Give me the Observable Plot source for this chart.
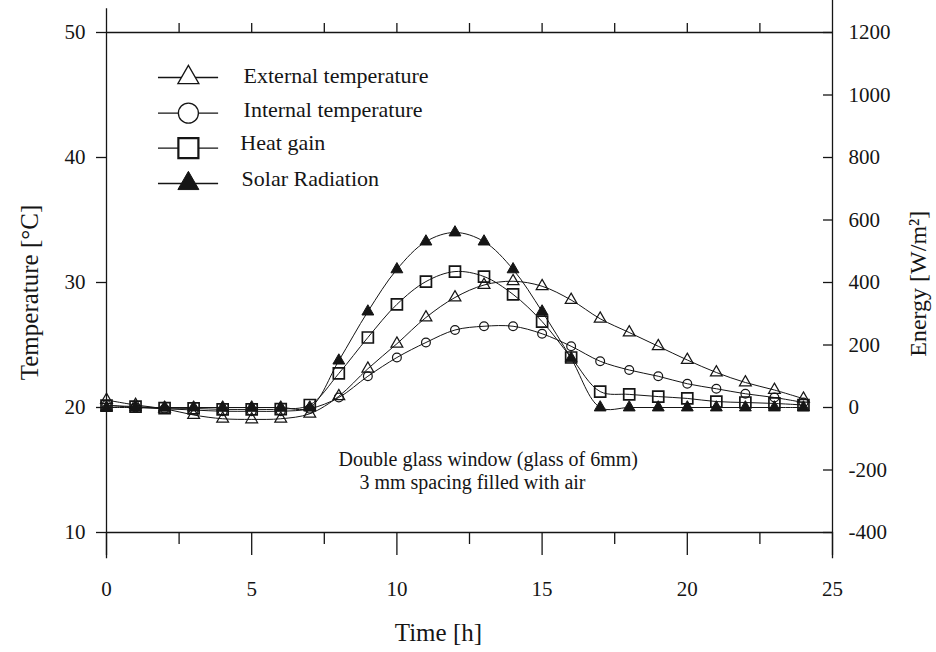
<!DOCTYPE html>
<html><head><meta charset="utf-8">
<script src="https://cdn.jsdelivr.net/npm/d3@7"></script>
<script src="https://cdn.jsdelivr.net/npm/@observablehq/plot@0.6"></script>
<style>body{margin:0;background:#fff}</style>
</head><body><div id="chart"></div>
<script>
// ---- data ----
const hours = [0,1,2,3,4,5,6,7,8,9,10,11,12,13,14,15,16,17,18,19,20,21,22,23,24];
const externalTemp = [20.6,20.2,19.9,19.4,19.1,19.05,19.1,19.5,20.9,23.1,25.1,27.2,28.8,29.8,30.1,29.7,28.6,27.1,26.0,24.9,23.8,22.8,22.0,21.4,20.7];
const internalTemp = [20.2,20.0,19.9,19.8,19.7,19.7,19.7,19.9,20.8,22.5,24.0,25.2,26.2,26.5,26.5,25.9,24.9,23.7,23.0,22.5,21.9,21.5,21.1,20.8,20.4];
const heatGain = [6,3,-2,-3,-6,-6,-5,8,109,224,330,403,435,419,362,275,160,51,42,35,29,19,16,13,8];      // W/m2
const solarRadiation = [0,0,0,0,0,0,0,0,150,307,442,531,560,531,442,307,157,0,0,0,0,0,0,0,0]; // W/m2
const tempTicks = [10,20,30,40,50];
const energyTicks = [-400,-200,0,200,400,600,800,1000,1200];
const timeTicks = [0,5,10,15,20,25];
const timeMinorTicks = [2.5,7.5,12.5,17.5,22.5];
const timeTopTicks = [2.5,5,7.5,10,12.5,15,17.5,20,22.5];
const legendLabels = ["External temperature","Internal temperature","Heat gain","Solar Radiation"];
const noteLines = ["Double glass window (glass of 6mm)","3 mm spacing filled with air"];

// energy (right axis) mapped onto the temperature axis: 0 W/m2 = 20 °C, 400 W/m2 = 30 °C
const eToT = e => 20 + e / 40;

const rows = hours.map((h, i) => ({
  h, ext: externalTemp[i], int: internalTemp[i],
  hg: eToT(heatGain[i]), sol: eToT(solarRadiation[i])
}));

const ink = "#151515";
const font = "'Liberation Serif','Times New Roman',serif";

// legend layout (data coords)
const legX1 = 1.79, legX2 = 3.86, legSym = 2.82;
const legLineY = [46.4, 43.55, 40.75, 37.92];
const legTextY = [46.55, 43.8, 41.2, 38.3];
const legTextX = [4.72, 4.72, 4.61, 4.65];
const legend = legendLabels.map((label, i) => ({label, ly: legLineY[i], ty: legTextY[i], tx: legTextX[i]}));

const chart = Plot.plot({
  width: 936, height: 652,
  marginLeft: 106, marginRight: 104, marginTop: 32, marginBottom: 120,
  style: {fontFamily: font, color: ink, background: "#fff", overflow: "visible"},
  x: {domain: [0, 25], label: null},
  y: {domain: [10, 50], label: null},
  marks: [
    // frame / axis lines
    Plot.ruleY([10, 50], {x1: 0, x2: 25, stroke: ink, strokeWidth: 1.3}),
    Plot.ruleX([0], {y1: 51.9, y2: 7.9, stroke: ink, strokeWidth: 1.3}),
    Plot.ruleX([25], {y1: 52.6, y2: 7.9, stroke: ink, strokeWidth: 1.3}),
    // left temperature axis
    Plot.axisY({ticks: tempTicks, tickSize: 10, tickPadding: 11, fontSize: 21, label: null, stroke: ink, strokeWidth: 1.3}),
    // right energy axis (inward ticks)
    Plot.axisY({anchor: "right", ticks: energyTicks.map(eToT), tickFormat: (t, i) => String(energyTicks[i]),
      tickSize: 10, dx: -10, tickPadding: 16, fontSize: 21, label: null, stroke: ink, strokeWidth: 1.3}),
    // bottom time axis
    Plot.axisX({ticks: timeTicks, tickSize: 23, tickPadding: 26, fontSize: 21, label: null, stroke: ink, strokeWidth: 1.3}),
    Plot.axisX({ticks: timeMinorTicks, tickSize: 12, tickFormat: () => "", label: null, stroke: ink, strokeWidth: 1.3}),
    Plot.axisX({anchor: "top", ticks: timeTopTicks, tickSize: 10, tickFormat: () => "", label: null, stroke: ink, strokeWidth: 1.3}),

    // series lines
    Plot.line(rows, {x: "h", y: "ext", curve: "catmull-rom", stroke: ink, strokeWidth: 1}),
    Plot.line(rows, {x: "h", y: "int", curve: "catmull-rom", stroke: ink, strokeWidth: 1}),
    Plot.line(rows, {x: "h", y: "hg", curve: "catmull-rom", stroke: ink, strokeWidth: 1}),
    Plot.line(rows, {x: "h", y: "sol", curve: "catmull-rom", stroke: ink, strokeWidth: 1}),
    // series markers
    Plot.dot(rows, {x: "h", y: "ext", symbol: "triangle", r: 4.4, stroke: ink, fill: "none", strokeWidth: 1.2}),
    Plot.dot(rows, {x: "h", y: "int", symbol: "circle", r: 4.4, stroke: ink, fill: "none", strokeWidth: 1.2}),
    Plot.dot(rows, {x: "h", y: "hg", symbol: "square", r: 6.2, stroke: ink, fill: "none", strokeWidth: 1.7}),
    Plot.dot(rows, {x: "h", y: "sol", symbol: "triangle", r: 4.4, stroke: ink, fill: ink, strokeWidth: 1}),

    // legend
    Plot.ruleY(legend, {y: "ly", x1: legX1, x2: legX2, stroke: ink, strokeWidth: 1.3}),
    Plot.dot([legend[0]], {x: legSym, y: "ly", symbol: "triangle", r: 7.8, stroke: ink, fill: "#fff", strokeWidth: 1.3}),
    Plot.dot([legend[1]], {x: legSym, y: "ly", symbol: "circle", r: 10, stroke: ink, fill: "#fff", strokeWidth: 1.3}),
    Plot.dot([legend[2]], {x: legSym, y: "ly", symbol: "square", r: 11.3, stroke: ink, fill: "#fff", strokeWidth: 2.2}),
    Plot.dot([legend[3]], {x: legSym, y: "ly", symbol: "triangle", r: 7.8, stroke: ink, fill: ink, strokeWidth: 1}),
    Plot.text(legend, {x: "tx", y: "ty", text: "label", textAnchor: "start", fontSize: 22, fill: ink}),

    // annotation
    Plot.text([noteLines[0]], {x: 7.99, y: 15.87, text: d => d, textAnchor: "start", fontSize: 20, fill: ink}),
    Plot.text([noteLines[1]], {x: 8.71, y: 14.03, text: d => d, textAnchor: "start", fontSize: 20, fill: ink}),

    // axis titles
    Plot.text(["Time [h]"], {x: 11.43, y: 2.0, text: d => d, fontSize: 25, fill: ink}),
    Plot.text(["Temperature [°C]"], {x: -2.65, y: 29.2, text: d => d, rotate: -90, fontSize: 25, fill: ink}),
    Plot.text(["Energy [W/m²]"], {x: 27.95, y: 29.9, text: d => d, rotate: -90, fontSize: 24, fill: ink})
  ]
});
document.getElementById("chart").appendChild(chart);
</script>
</body></html>
